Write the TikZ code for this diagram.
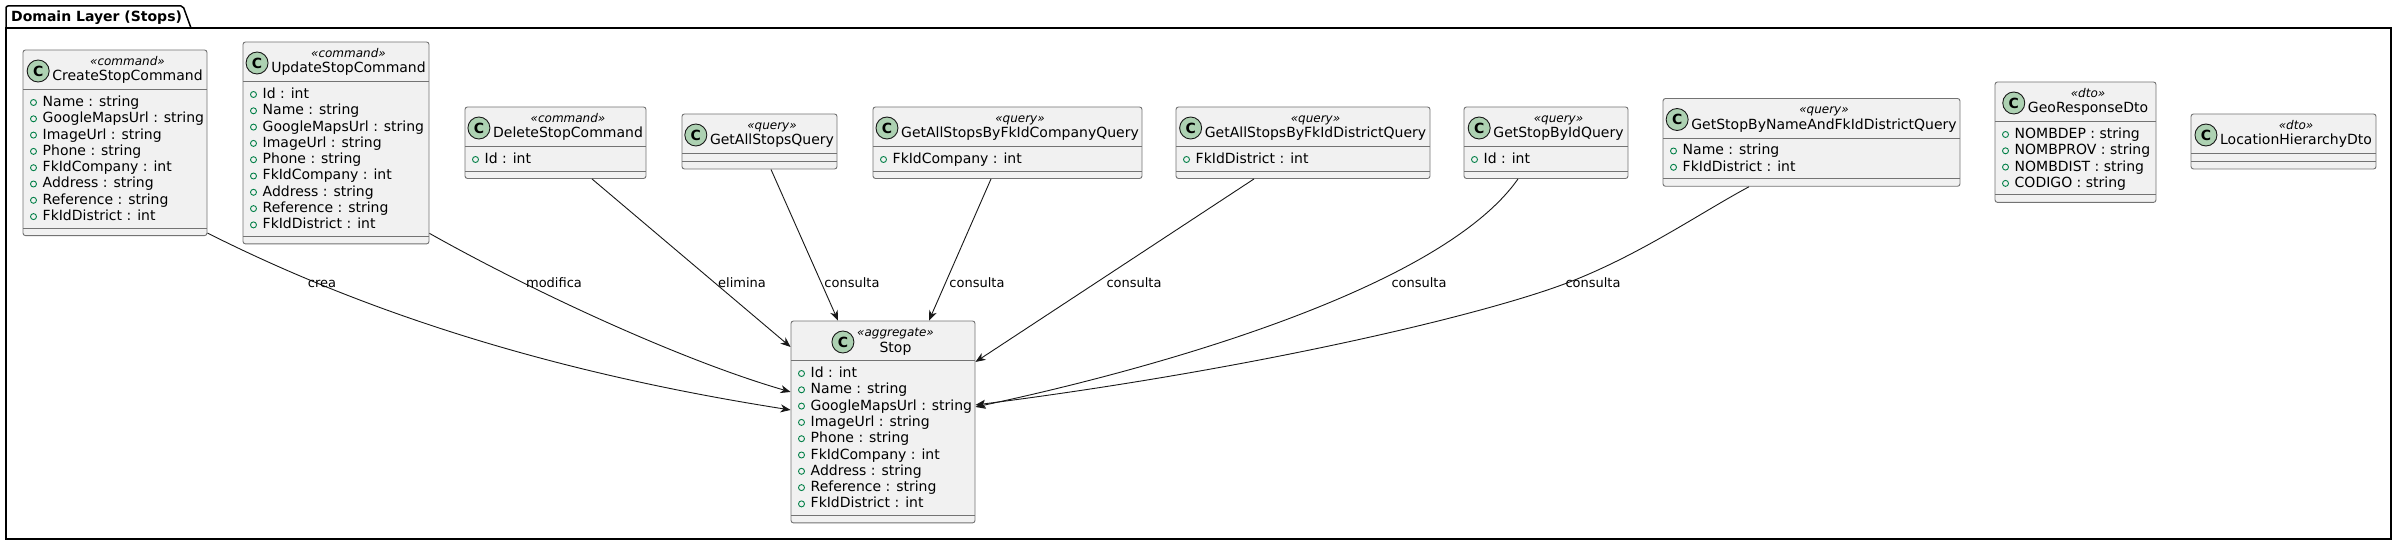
\documentclass[tikz,border=0pt]{standalone}
\usepackage{fontspec}
\setmainfont{DejaVu Sans}
\usetikzlibrary{arrows.meta,fit,calc}
\definecolor{boxfill}{HTML}{F1F1F1}
\definecolor{boxline}{HTML}{181818}
\definecolor{iconfill}{HTML}{ADD1B2}
\definecolor{visgreen}{HTML}{038048}
\tikzset{
  classbox/.style={draw=black!55, fill=boxfill, line width=0.9pt, rounded corners=2.5pt, inner sep=0pt},
  sepline/.style={draw=black!55, line width=0.9pt},
  stereo/.style={font=\fontsize{12}{14}\selectfont\itshape, inner sep=0pt, anchor=base},
  cname/.style={font=\fontsize{14}{16}\selectfont, inner sep=0pt, anchor=base},
  attr/.style={font=\fontsize{14}{16}\selectfont, inner sep=0pt, anchor=base west},
  vis/.style={draw=visgreen, line width=0.9pt},
  icon/.style={circle, draw=boxline, fill=iconfill, line width=0.9pt, minimum size=22pt, inner sep=0pt, font=\fontsize{14}{16}\selectfont\bfseries},
  arr/.style={draw=boxline, line width=0.9pt, -{Stealth[length=10pt,width=8pt,inset=3pt]}},
  lbl/.style={font=\fontsize{13}{15}\selectfont, inner sep=0pt, anchor=base},
  pkg/.style={draw=black, line width=1.5pt},
  pkgtitle/.style={font=\fontsize{14}{16}\selectfont\bfseries, inner sep=0pt, anchor=base west},
}
% #1 id, #2 left, #3 right, #4 top, #5 stereotype, #6 name, #7 attributes, #8 number of attributes
\newcommand\umlclass[8]{%
  \pgfmathsetmacro\cSepA{#4+39.5}%
  \pgfmathsetmacro\cSepB{#8>0 ? #4+39.5+24.5+(#8-1)*16.3 : #4+47.5}%
  \pgfmathsetmacro\cBot{\cSepB+7.5}%
  \pgfmathsetmacro\cMid{(#2+#3)/2+12.5}%
  \node[classbox, fit={(#2,#4) (#3,\cBot)}] (#1) {};
  \draw[sepline] (#2,\cSepA) -- (#3,\cSepA);
  \draw[sepline] (#2,\cSepB) -- (#3,\cSepB);
  \node[stereo] (#1-s) at (\cMid,#4+15.5) {«#5»};
  \node[cname] (#1-n) at (\cMid,#4+31) {#6};
  \path let \p1=(#1-s.west), \p2=(#1-n.base west) in
    node[icon] (#1-i) at ({min(\x1,\x2)-14pt},{\y2+10pt}) {C};
  \ifnum#8>0
    \foreach \attrtext [count=\i from 0] in {#7}{%
      \pgfmathsetmacro\ay{#4+51.5+\i*16.3}%
      \draw[vis] (#2+10.5,\ay+1) circle (3pt);
      \node[attr] (#1-a\i) at (#2+19.5,\ay+5) {\attrtext};
    }%
  \fi
}
\begin{document}
\begin{tikzpicture}[x=1pt,y=-1pt]
\fill[white] (0,0) rectangle (2398,545);
\useasboundingbox (0,0) rectangle (2398,545);
% package
\draw[pkg, rounded corners=2pt] (6,28) -- (6,6) -- (183,6) -- (191,28);
\draw[pkg] (6,28) rectangle (2391,539);
\node[pkgtitle] (pkgtitle) at (11,21.5) {Domain Layer (Stops)};
% classes
\umlclass{create}{23}{207}{50}{command}{CreateStopCommand}{Name : string, GoogleMapsUrl : string, ImageUrl : string, Phone : string, FkIdCompany : int, Address : string, Reference : string, FkIdDistrict : int}{8}
\umlclass{update}{243}{429}{42}{command}{UpdateStopCommand}{Id : int, Name : string, GoogleMapsUrl : string, ImageUrl : string, Phone : string, FkIdCompany : int, Address : string, Reference : string, FkIdDistrict : int}{9}
\umlclass{delete}{465}{646}{107}{command}{DeleteStopCommand}{Id : int}{1}
\umlclass{getall}{682}{837}{114}{query}{GetAllStopsQuery}{}{0}
\umlclass{bycompany}{873}{1142}{107}{query}{GetAllStopsByFkIdCompanyQuery}{FkIdCompany : int}{1}
\umlclass{bydistrict}{1176}{1430}{107}{query}{GetAllStopsByFkIdDistrictQuery}{FkIdDistrict : int}{1}
\umlclass{byid}{1464}{1628}{107}{query}{GetStopByIdQuery}{Id : int}{1}
\umlclass{byname}{1663}{1960}{98.5}{query}{GetStopByNameAndFkIdDistrictQuery}{Name : string, FkIdDistrict : int}{2}
\umlclass{geo}{1995}{2156}{82}{dto}{GeoResponseDto}{NOMBDEP : string, NOMBPROV : string, NOMBDIST : string, CODIGO : string}{4}
\umlclass{loc}{2191}{2376}{114}{dto}{LocationHierarchyDto}{}{0}
\umlclass{stop}{791}{975}{321}{aggregate}{Stop}{Id : int, Name : string, GoogleMapsUrl : string, ImageUrl : string, Phone : string, FkIdCompany : int, Address : string, Reference : string, FkIdDistrict : int}{9}
% connectors
\draw[arr] ([yshift=3pt]create.south east) .. controls (400,330) and (600,380) .. ([yshift=12pt]stop.west);
\draw[arr] ([yshift=11pt]update.south east) .. controls (530,290) and (680,360) .. ([yshift=30pt]stop.west);
\draw[arr] ([xshift=36.5pt]delete.south) -- ([yshift=75pt]stop.west);
\draw[arr] ([xshift=11.5pt]getall.south) -- ([xshift=-45pt]stop.north);
\draw[arr] ([xshift=-16.5pt]bycompany.south) -- ([xshift=46pt]stop.north);
\draw[arr] ([xshift=-49pt]bydistrict.south) -- ([yshift=60pt]stop.east);
\draw[arr] ([xshift=-28pt]byid.south) .. controls (1440,290) and (1150,370) .. ([yshift=15pt]stop.east);
\draw[arr] ([xshift=-62.5pt]byname.south) .. controls (1700,213) and (1640,255) .. (1567,283) .. controls (1480,316) and (1250,370) .. ([yshift=17pt]stop.east);
% labels
\node[lbl] (lcrea) at (322,287.5) {crea};
\node[lbl] (lmod) at (554,287.5) {modifica};
\node[lbl] (lelim) at (742,287.5) {elimina};
\node[lbl] (lq1) at (852,287.5) {consulta};
\node[lbl] (lq2) at (977,287.5) {consulta};
\node[lbl] (lq3) at (1134,287.5) {consulta};
\node[lbl] (lq4) at (1419,287.5) {consulta};
\node[lbl] (lq5) at (1593,287.5) {consulta};
\end{tikzpicture}
\end{document}
